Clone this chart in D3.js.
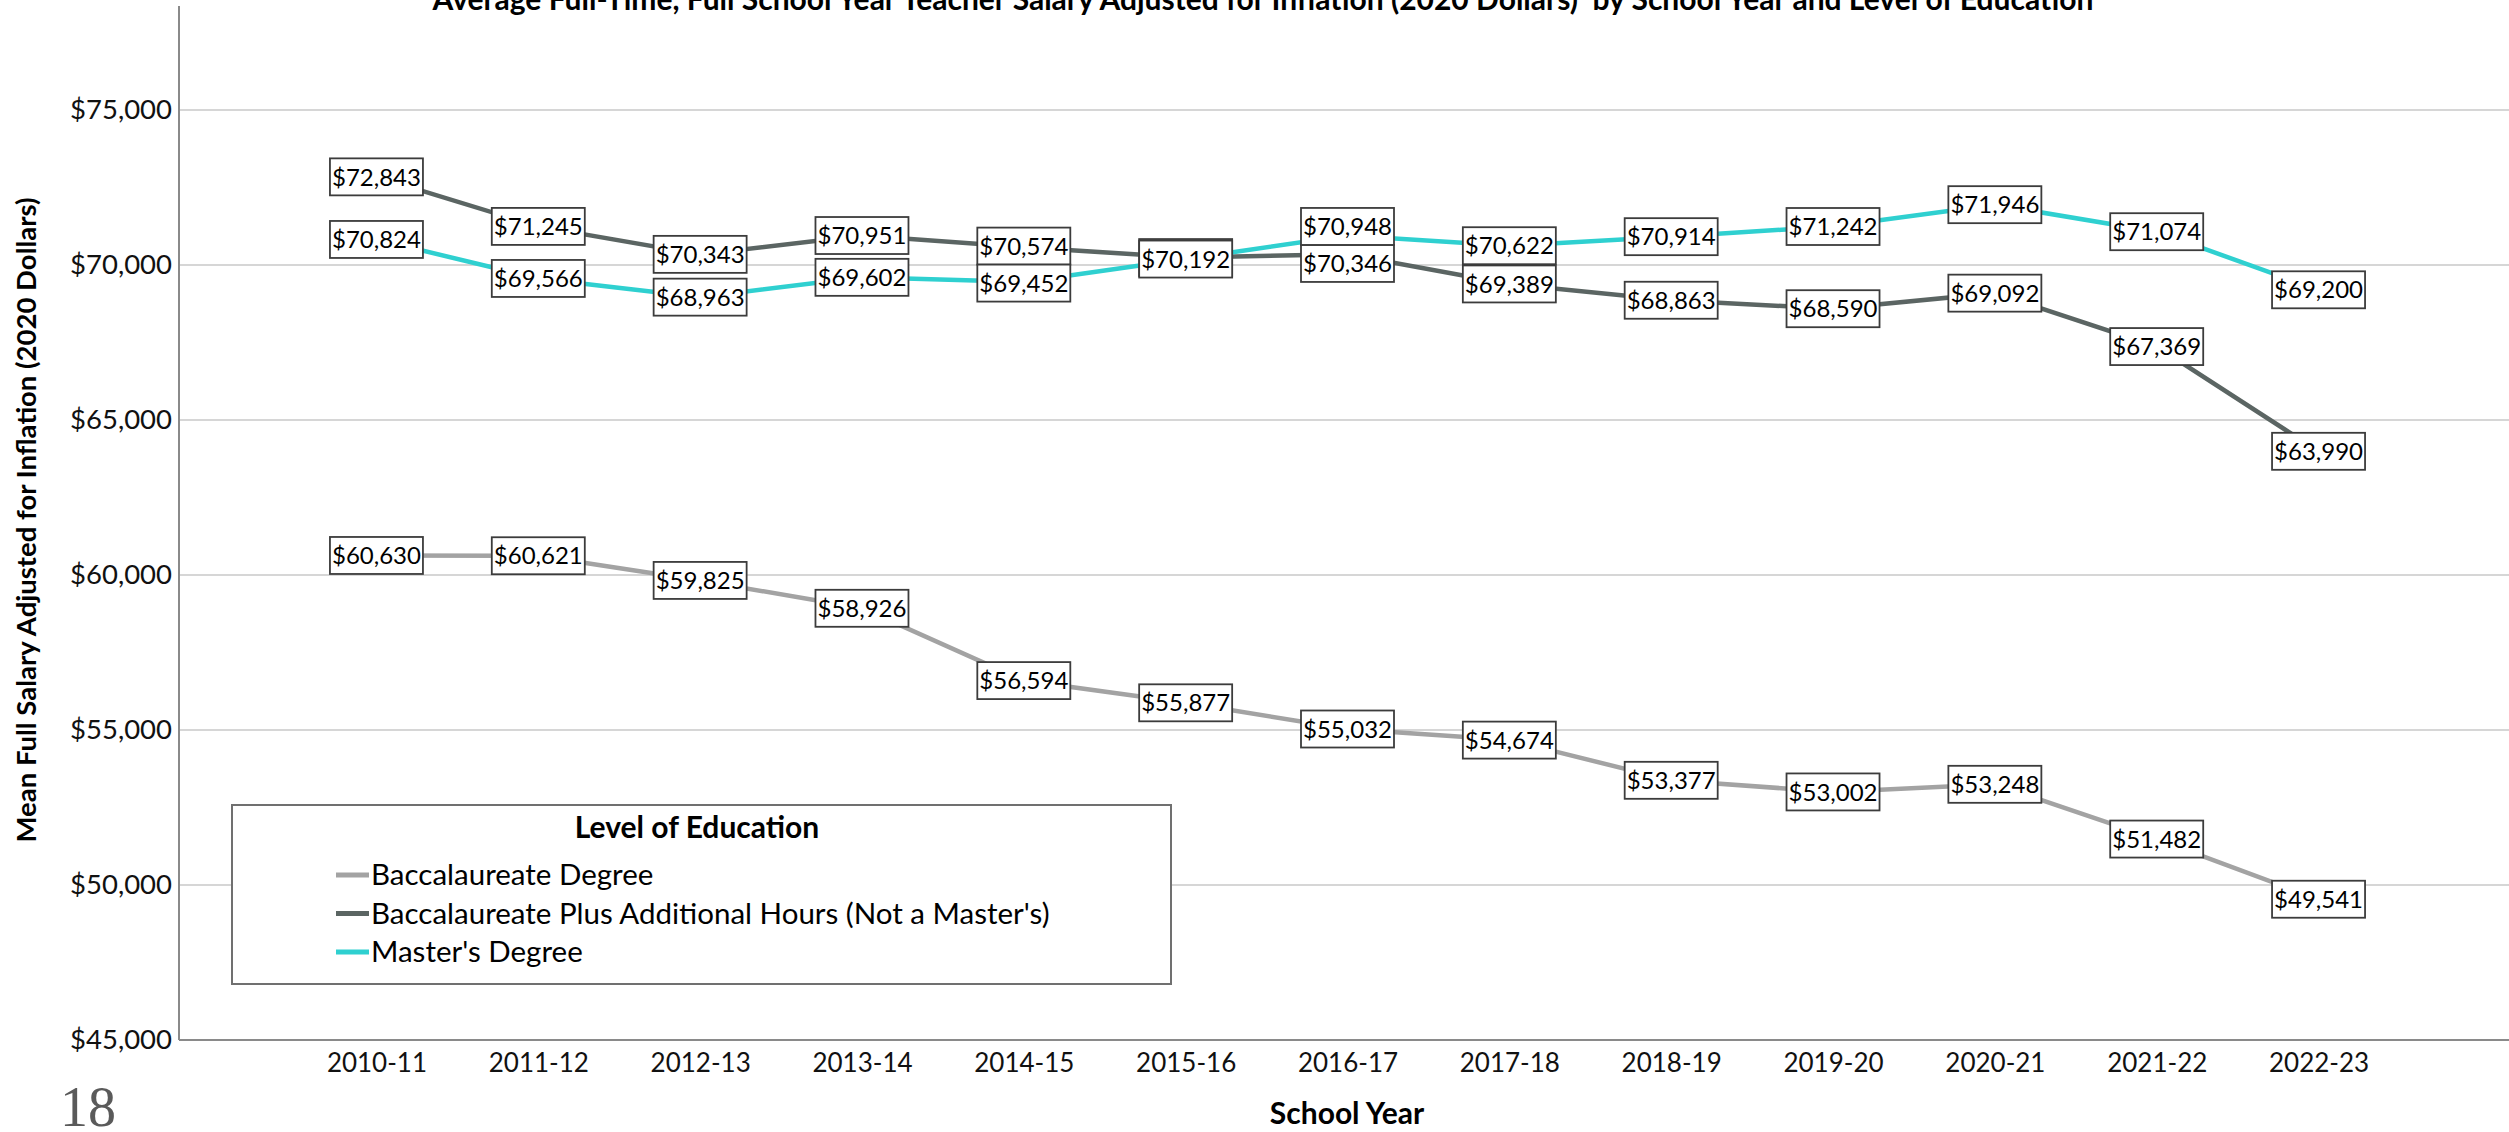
<!DOCTYPE html>
<html>
<head>
<meta charset="utf-8">
<script src="https://cdn.jsdelivr.net/npm/d3@7"></script>
<style>
  html, body { margin: 0; padding: 0; background: #fff; }
  svg text { font-family: Lato, "Open Sans", sans-serif; }
  svg text.page-number { font-family: "Liberation Serif", "DejaVu Serif", serif; }
</style>
</head>
<body>
<div id="chart"></div>
<script>
// data
var years = ['2010-11', '2011-12', '2012-13', '2013-14', '2014-15', '2015-16', '2016-17',
    '2017-18', '2018-19', '2019-20', '2020-21', '2021-22', '2022-23'];

var baccalaureate = [60630, 60621, 59825, 58926, 56594, 55877, 55032, 54674, 53377, 53002, 53248, 51482, 49541];
// 2015-16 label is hidden under the Master's label in the source, value estimated
var baccPlus = [72843, 71245, 70343, 70951, 70574, 70240, 70346, 69389, 68863, 68590, 69092, 67369, 63990];
var masters = [70824, 69566, 68963, 69602, 69452, 70192, 70948, 70622, 70914, 71242, 71946, 71074, 69200];

var seriesNames = ['Baccalaureate Degree', "Baccalaureate Plus Additional Hours (Not a Master's)", "Master's Degree"];
var seriesColors = ['#a3a3a3', '#5b6563', '#2fd0d0'];
var yTicks = [45000, 50000, 55000, 60000, 65000, 70000, 75000];

var series = [baccalaureate, baccPlus, masters];

var width = 2509, height = 1132;
var margin = {top: 6, left: 179, bottom: 1040};

var svg = d3.select('#chart')
    .append('svg')
    .attr('width', width)
    .attr('height', height);

svg.append('rect')
    .attr('width', width)
    .attr('height', height)
    .attr('fill', '#fff');

var x = d3.scalePoint()
    .domain(years)
    .range([margin.left, 2516])
    .padding(1.22);

var y = d3.scaleLinear()
    .domain([45000, 75000])
    .range([margin.bottom, 110]);

// grid lines
svg.append('g')
    .attr('class', 'grid-lines')
    .selectAll('line')
    .data(yTicks.slice(1))
    .enter()
    .append('line')
    .attr('x1', margin.left)
    .attr('x2', width)
    .attr('y1', function(d) { return y(d) })
    .attr('y2', function(d) { return y(d) })
    .attr('stroke', '#d6d6d6')
    .attr('stroke-width', 2);

// y axis
var yAxis = svg.append('g')
    .attr('transform', 'translate(' + margin.left + ',0)')
    .call(d3.axisLeft(y)
        .tickValues(yTicks)
        .tickSize(0)
        .tickPadding(7)
        .tickFormat(function(d) { return '$' + d3.format(',')(d) })
    );
yAxis.select('.domain').remove();
yAxis.selectAll('.tick text')
    .attr('font-size', 27.5)
    .attr('fill', '#111');

svg.append('line')
    .attr('x1', margin.left).attr('x2', margin.left)
    .attr('y1', margin.top).attr('y2', margin.bottom)
    .attr('stroke', '#8a8a8a')
    .attr('stroke-width', 2);

// x axis
var xAxis = svg.append('g')
    .attr('transform', 'translate(0,' + margin.bottom + ')')
    .call(d3.axisBottom(x).tickSize(0).tickPadding(14));
xAxis.select('.domain').remove();
xAxis.selectAll('.tick text')
    .attr('font-size', 26)
    .attr('fill', '#111');

svg.append('line')
    .attr('x1', margin.left).attr('x2', width)
    .attr('y1', margin.bottom).attr('y2', margin.bottom)
    .attr('stroke', '#8a8a8a')
    .attr('stroke-width', 2);

// lines
var line = d3.line()
    .x(function(d, i) { return x(years[i]) })
    .y(function(d) { return y(d) });

svg.selectAll('path.series')
    .data(series)
    .enter()
    .append('path')
    .attr('class', 'series')
    .attr('d', line)
    .attr('fill', 'none')
    .attr('stroke', function(d, i) { return seriesColors[i] })
    .attr('stroke-width', 4.5);

// data labels centred on the points, nudged apart when two boxes overlap
var boxW = 93, boxH = 37;
var labels = [];
series.forEach(function(values, s) {
    values.forEach(function(v, i) {
        labels.push({s: s, i: i, value: v, cx: x(years[i]), cy: y(v)});
    });
});

years.forEach(function(yr, i) {
    var col = labels.filter(function(l) { return l.i === i })
        .sort(function(a, b) { return a.cy - b.cy });
    for (var k = 1; k < col.length; k++) {
        var a = col[k - 1], b = col[k];
        var gap = b.cy - a.cy;
        if (gap < boxH && gap > 6) {
            var mid = (a.cy + b.cy) / 2;
            a.cy = mid - boxH / 2;
            b.cy = mid + boxH / 2;
        }
    }
});

var lab = svg.append('g').selectAll('g')
    .data(labels)
    .enter()
    .append('g')
    .attr('transform', function(d) { return 'translate(' + d.cx + ',' + d.cy + ')' });

lab.append('rect')
    .attr('x', -boxW / 2)
    .attr('y', -boxH / 2)
    .attr('width', boxW)
    .attr('height', boxH)
    .attr('fill', '#fff')
    .attr('stroke', '#3c3c3c')
    .attr('stroke-width', 1.8);

lab.append('text')
    .attr('text-anchor', 'middle')
    .attr('dy', '0.36em')
    .attr('font-size', 24)
    .attr('fill', '#000')
    .text(function(d) { return '$' + d3.format(',')(d.value) });

// legend
var legend = svg.append('g');
legend.append('rect')
    .attr('x', 232).attr('y', 805)
    .attr('width', 939).attr('height', 179)
    .attr('fill', '#fff')
    .attr('stroke', '#707070')
    .attr('stroke-width', 2);

legend.append('text')
    .attr('x', 697).attr('y', 838)
    .attr('text-anchor', 'middle')
    .attr('font-size', 30)
    .attr('font-weight', 'bold')
    .attr('fill', '#000')
    .text('Level of Education');

var item = legend.selectAll('g.item')
    .data(seriesNames)
    .enter()
    .append('g')
    .attr('class', 'item')
    .attr('transform', function(d, i) { return 'translate(336,' + (875 + i * 38.5) + ')' });

item.append('line')
    .attr('x1', 0).attr('x2', 33)
    .attr('stroke', function(d, i) { return seriesColors[i] })
    .attr('stroke-width', 5);

item.append('text')
    .attr('x', 35)
    .attr('dy', '0.35em')
    .attr('font-size', 29.5)
    .attr('fill', '#000')
    .text(function(d) { return d });

// titles
svg.append('text')
    .attr('x', 1263).attr('y', 10)
    .attr('text-anchor', 'middle')
    .attr('font-size', 30)
    .attr('font-weight', 'bold')
    .attr('fill', '#000')
    .attr('xml:space', 'preserve')
    .text('Average Full-Time, Full School Year Teacher Salary Adjusted for Inflation (2020 Dollars)  by School Year and Level of Education');

svg.append('text')
    .attr('transform', 'translate(36,520) rotate(-90)')
    .attr('text-anchor', 'middle')
    .attr('font-size', 27.5)
    .attr('font-weight', 'bold')
    .attr('fill', '#000')
    .text('Mean Full Salary Adjusted for Inflation (2020 Dollars)');

svg.append('text')
    .attr('x', 1347).attr('y', 1124)
    .attr('text-anchor', 'middle')
    .attr('font-size', 30)
    .attr('font-weight', 'bold')
    .attr('fill', '#000')
    .text('School Year');

svg.append('text')
    .attr('class', 'page-number')
    .attr('x', 60).attr('y', 1126)
    .attr('font-size', 56)
    .attr('fill', '#5a5a5a')
    .text('18');
</script>
</body>
</html>
